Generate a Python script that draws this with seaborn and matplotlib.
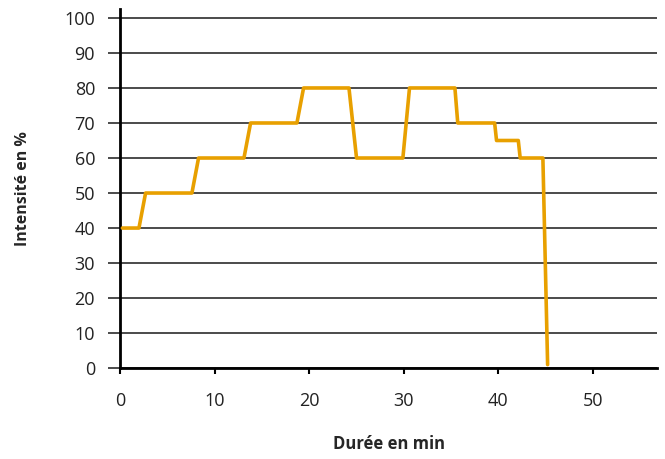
import matplotlib
matplotlib.use("Agg")
import matplotlib.pyplot as plt
import seaborn as sns
import pandas as pd

# ── Data ──────────────────────────────────────────────────────
duree_min = [0.25, 2.0, 2.7, 7.6, 8.3, 13.1, 13.8, 18.7, 19.4, 24.2,
             25.0, 29.9, 30.6, 35.4, 35.7, 39.6, 39.8, 42.1, 42.3, 44.7, 45.2]
intensite = [40, 40, 50, 50, 60, 60, 70, 70, 80, 80,
             60, 60, 80, 80, 70, 70, 65, 65, 60, 60, 1]

y_ticks = list(range(0, 101, 10))
x_ticks = [0, 10, 20, 30, 40, 50]

df = pd.DataFrame({"Durée": duree_min, "Intensité": intensite})

# ── Style ─────────────────────────────────────────────────────
sns.set_style("white")
plt.rcParams["font.family"] = ["Open Sans", "DejaVu Sans"]

fig = plt.figure(figsize=(6.65, 4.59), dpi=100)
ax = fig.add_axes([0.1805, 0.198, 0.808, 0.782])

# gridlines first so the curve sits on top
for y in y_ticks:
    ax.axhline(y, color="#1a1a1a", lw=1.1, zorder=1)

sns.lineplot(data=df, x="Durée", y="Intensité", sort=False,
             color="#E8A000", lw=2.6, ax=ax, zorder=3)

ax.set_xlim(0, 56.8)
ax.set_ylim(0, 102.5)
ax.set_xticks(x_ticks)
ax.set_yticks(y_ticks)

for side in ["top", "right"]:
    ax.spines[side].set_visible(False)
for side in ["left", "bottom"]:
    ax.spines[side].set_linewidth(2)
    ax.spines[side].set_color("black")

ax.tick_params(axis="y", length=8.5, width=1.1, color="#1a1a1a",
               labelsize=13, pad=9.5, left=True, labelcolor="#222222")
ax.tick_params(axis="x", length=4, width=1.5, color="black",
               labelsize=13, pad=13, bottom=True, labelcolor="#222222")

ax.set_xlabel("Durée en min", fontsize=12, fontweight="bold", labelpad=18)
ax.set_ylabel("Intensité en %", fontsize=11.5, fontweight="bold", labelpad=24)

fig.savefig("out.png", dpi=100)
